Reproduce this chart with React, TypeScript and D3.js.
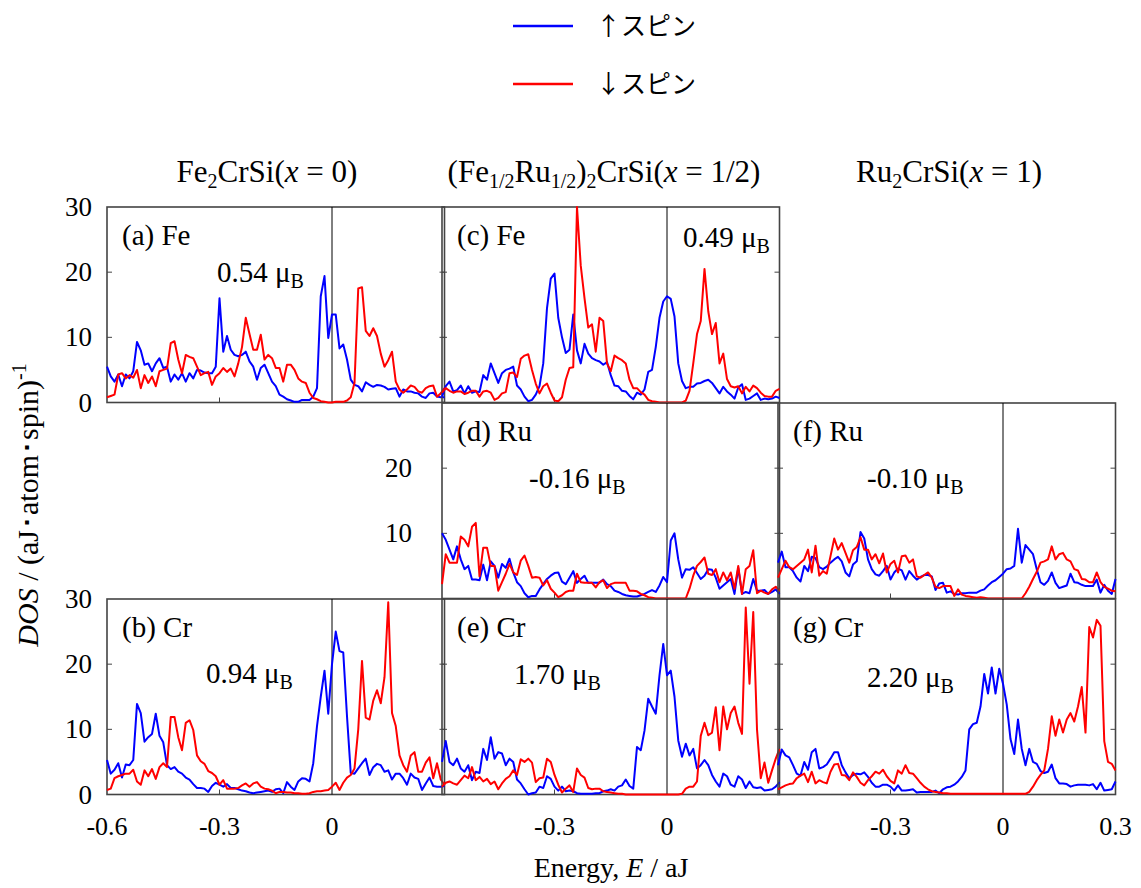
import React from "react";
import * as d3 from "d3";

// energy grid (aJ)
const ENERGY = d3.range(91).map((i) => +(-0.6 + i * 0.01).toFixed(2));

// (a) Fe, x = 0
const A_UP = [5.5,4.0,3.2,4.3,2.5,4.3,3.7,4.8,9.3,8.0,
  5.8,6.0,4.8,6.0,6.8,5.3,5.5,3.2,4.3,3.5,
  4.5,3.2,4.5,3.7,5.0,4.9,4.6,4.5,4.5,5.5,
  16.0,7.8,10.2,8.1,7.3,7.1,7.3,7.8,6.3,5.5,
  3.5,5.3,5.8,4.5,3.2,2.5,1.2,0.9,0.5,0.3,
  0.1,0.1,0.4,0.4,0.4,0.9,2.2,16.3,19.4,9.9,
  13.5,13.5,8.3,8.9,6.6,3.5,2.7,2.5,1.7,3.1,
  2.7,2.4,2.7,2.6,2.4,2.0,2.1,2.2,0.9,2.0,
  1.7,1.7,1.5,1.4,0.9,0.7,1.4,1.5,0.9,0.8,0.8];
const A_DN = [0.8,1.0,1.2,4.3,4.5,3.7,4.2,3.8,5.0,2.2,
  4.2,3.0,4.0,2.5,4.8,5.0,5.2,9.1,9.4,6.6,
  4.5,7.3,7.0,6.8,5.5,4.2,4.5,4.7,2.7,4.0,
  4.5,5.3,4.7,5.2,4.0,6.0,8.5,13.0,10.5,8.1,
  8.1,10.4,6.6,7.3,6.8,5.3,5.3,3.2,5.8,5.8,
  5.0,3.7,3.2,3.0,1.5,0.7,0.5,0.2,0.1,0.0,
  0.0,0.1,0.1,0.1,0.3,0.8,3.0,17.5,17.7,11.0,
  10.2,11.4,10.2,7.5,5.5,6.5,7.8,3.2,2.0,1.5,
  2.0,2.6,2.4,1.7,1.5,2.2,2.5,2.6,0.9,1.4,2.2];

// (b) Cr, x = 0
const B_UP = [5.3,3.2,3.8,4.8,2.6,4.6,4.5,5.3,13.9,12.5,
  8.1,8.8,9.3,12.4,9.0,8.0,4.5,3.9,4.2,3.5,
  3.2,2.6,2.3,1.6,1.0,1.0,0.9,0.4,1.3,1.8,
  1.5,1.2,1.6,1.0,1.0,0.8,0.6,0.5,0.3,0.2,
  0.3,0.4,0.5,0.6,0.4,0.8,0.9,0.2,1.9,1.2,
  0.7,2.0,2.5,2.4,2.0,4.8,10.5,15.0,19.0,12.4,
  20.0,25.0,22.0,21.8,12.0,3.3,3.2,4.0,4.8,5.5,
  3.0,4.2,4.7,4.5,3.5,3.7,2.3,3.2,3.2,2.5,
  1.5,3.2,2.6,2.4,0.7,1.7,2.6,1.3,1.2,1.2,1.3];
const B_DN = [0.7,0.9,2.5,2.8,3.0,3.2,3.2,3.8,2.0,1.5,
  3.7,2.8,3.9,2.4,4.2,4.8,4.2,11.9,11.9,8.8,
  6.8,11.0,11.4,9.9,6.0,5.1,4.7,3.6,3.3,2.8,
  1.5,2.2,0.9,0.9,0.9,1.0,1.4,1.7,1.2,1.7,
  1.9,1.2,0.9,0.8,0.6,0.2,0.4,0.4,0.3,0.3,
  0.2,0.2,0.1,0.1,0.2,0.4,0.5,0.5,0.6,0.7,
  1.2,1.8,0.7,1.8,2.6,3.0,4.0,10.0,20.5,11.8,
  11.5,14.4,16.0,14.0,18.0,29.5,12.5,10.5,6.0,4.5,
  3.5,6.0,6.5,3.5,3.5,4.9,5.7,2.5,4.8,2.3,1.5];

// (c) Fe, x = 1/2
const C_UP = [0.9,2.5,3.2,1.7,1.9,2.6,1.4,2.5,1.5,1.7,
  1.6,4.2,3.5,6.0,4.5,3.0,4.5,5.0,5.2,5.5,
  2.6,2.0,0.9,0.2,0.4,1.2,2.5,6.0,14.5,19.0,
  19.8,13.0,10.0,7.6,8.1,13.5,8.0,6.0,9.0,7.5,
  6.8,6.5,6.3,5.8,6.2,4.2,2.6,2.5,1.8,1.7,
  1.0,0.5,1.5,1.2,2.0,4.7,5.0,8.5,13.0,15.5,
  16.3,15.9,13.2,6.0,3.3,2.2,2.4,2.4,2.9,3.0,
  3.3,3.5,3.0,2.2,1.4,2.4,1.7,1.2,0.6,2.3,
  2.8,0.4,0.6,1.0,1.4,0.4,0.6,0.5,0.6,0.9,0.7];
const C_DN = [1.5,2.2,1.8,1.5,1.7,1.7,1.3,1.5,1.8,1.8,
  0.9,1.7,1.8,1.5,0.4,0.7,1.4,1.6,4.5,4.6,
  3.9,6.7,7.2,7.4,5.0,2.9,1.4,2.5,2.9,1.5,
  0.3,0.2,0.8,3.5,5.3,5.4,30.0,21.0,16.0,11.5,
  12.0,7.8,13.0,12.5,6.0,4.8,7.2,6.8,6.5,6.0,
  3.5,2.2,2.2,1.6,1.2,0.4,0.2,0.1,0.0,0.0,
  0.0,0.0,0.0,0.0,0.0,0.3,1.8,6.0,10.5,12.5,
  20.5,14.0,10.5,12.2,6.0,7.5,3.6,2.5,2.3,2.5,
  1.4,2.4,1.7,2.6,2.2,1.5,1.0,0.9,0.9,1.8,2.1];

// (d) Ru, x = 1/2
const D_UP = [10.0,9.0,7.5,6.0,8.0,6.0,4.5,5.0,2.9,2.9,
  2.8,5.2,2.8,5.7,5.0,3.2,5.3,4.7,6.1,4.0,
  2.5,1.9,0.8,0.2,0.4,0.4,1.4,2.2,3.0,3.5,
  3.9,4.0,2.6,2.2,3.2,4.2,2.4,3.0,3.5,2.4,
  2.4,2.4,2.4,2.9,2.2,1.9,1.2,1.0,0.7,0.5,
  0.4,0.3,0.3,0.5,0.7,1.0,1.3,1.0,2.0,3.3,
  2.5,8.9,10.0,6.0,3.2,4.5,4.4,4.8,3.9,3.0,
  3.5,4.5,4.4,3.2,1.5,2.0,2.5,3.0,0.7,4.7,
  0.7,1.0,0.8,3.0,1.2,1.2,1.3,0.7,1.0,1.4,0.7];
const D_DN = [2.2,6.8,5.5,5.5,5.5,9.5,9.0,8.0,11.0,11.6,
  3.4,7.8,7.8,5.0,5.0,1.2,2.5,3.8,5.3,4.0,
  3.6,5.8,6.6,5.0,3.2,3.3,3.2,2.0,2.8,1.5,
  0.9,0.2,0.5,1.0,1.2,1.2,3.8,2.5,2.4,2.4,
  2.4,1.7,2.5,2.8,1.6,2.2,2.4,2.4,2.4,2.4,
  1.2,1.2,1.1,0.7,0.5,0.2,0.1,0.0,0.0,0.0,
  0.0,0.0,0.0,0.0,0.0,0.0,1.5,3.5,5.0,5.6,
  6.3,3.8,3.6,4.5,2.5,4.0,2.8,4.0,1.5,5.0,
  0.7,4.5,5.0,7.4,0.8,1.2,0.9,0.7,1.4,1.8,1.2];

// (e) Cr, x = 1/2
const E_UP = [5.0,8.2,5.0,4.5,5.5,4.0,3.5,4.5,2.2,3.5,
  3.3,7.0,5.3,8.8,5.5,6.5,6.3,4.5,5.5,5.0,
  2.3,1.7,0.8,0.0,0.2,0.3,1.2,1.0,2.8,2.4,
  1.2,0.6,1.2,0.5,0.6,0.5,0.2,0.1,0.1,0.1,
  0.1,0.2,0.2,0.5,0.6,0.8,0.6,1.2,1.4,2.3,
  1.3,0.9,7.3,6.8,9.8,14.7,13.5,12.4,18.3,23.1,
  18.3,19.0,15.0,8.3,5.8,7.8,6.0,7.0,4.0,4.5,
  5.3,4.5,3.0,2.0,1.2,3.2,2.8,1.5,1.2,2.8,
  2.3,1.0,2.0,1.1,1.0,1.1,0.6,0.7,0.8,1.2,1.9];
const E_DN = [1.2,1.8,2.0,1.7,1.5,2.2,2.9,2.5,4.2,2.2,
  2.7,2.0,2.4,1.6,2.0,0.8,1.7,2.4,2.8,3.7,
  3.0,5.4,5.0,5.5,4.9,1.9,2.5,2.6,5.5,5.0,
  3.0,1.5,0.3,0.9,1.4,0.4,4.0,3.0,2.6,1.0,
  0.8,0.9,0.9,0.5,0.4,0.3,0.2,0.1,0.1,0.0,
  0.0,0.0,0.0,0.0,0.0,0.0,0.0,0.0,0.0,0.0,
  0.0,0.0,0.0,0.0,0.1,0.9,1.2,1.2,2.0,9.0,
  11.0,9.1,9.5,13.4,6.8,13.5,10.0,12.5,13.5,11.0,
  9.3,28.7,17.0,28.0,10.0,2.5,4.9,1.8,3.7,5.5,7.0];

// (f) Ru, x = 1
const F_UP = [5.5,7.2,4.8,4.8,4.2,3.2,2.6,5.0,4.2,6.4,
  6.2,4.8,4.5,4.9,5.5,6.0,6.4,5.7,4.0,3.4,
  5.2,5.7,10.2,9.2,6.0,4.5,3.7,3.5,4.2,5.0,
  2.9,4.0,4.6,4.3,2.9,4.2,3.5,2.9,3.3,3.6,
  3.6,3.4,1.3,2.3,2.4,0.9,1.1,0.7,0.6,0.8,
  0.8,0.9,0.9,0.9,1.2,1.4,2.0,2.5,2.8,3.3,
  3.8,4.5,4.6,5.0,10.7,5.5,8.2,7.5,6.8,4.5,
  2.5,2.1,2.7,4.0,2.4,1.6,1.8,2.0,3.8,2.5,
  2.4,2.1,1.9,1.9,1.9,2.9,0.9,2.1,1.2,0.7,3.0];
const F_DN = [3.2,4.5,5.8,4.8,4.5,5.0,5.5,6.0,7.5,4.0,
  8.1,3.5,4.2,3.8,6.5,9.2,7.5,8.5,7.0,5.5,
  7.4,7.9,9.4,7.5,7.5,6.0,6.8,5.4,6.9,4.0,
  5.3,5.8,4.0,6.5,6.6,5.5,6.0,3.4,3.2,3.6,
  4.0,3.2,1.8,1.6,1.9,1.9,1.9,0.4,1.4,0.6,
  0.4,0.3,0.2,0.1,0.2,0.1,0.0,0.0,0.0,0.0,
  0.0,0.0,0.0,0.0,0.0,0.0,0.8,1.8,3.0,4.1,
  5.5,5.7,6.0,8.0,6.0,6.8,7.0,6.0,5.7,4.5,
  4.3,3.0,2.9,2.5,2.5,4.0,2.5,1.8,1.5,1.2,1.1];

// (g) Cr, x = 1
const G_UP = [4.5,6.9,6.0,5.7,4.5,3.2,2.9,5.0,3.8,6.5,
  7.0,4.0,4.2,4.6,5.5,6.5,6.5,4.5,3.4,2.5,
  3.0,3.2,3.1,3.4,2.7,1.8,1.2,1.2,1.5,1.5,
  1.2,0.6,1.4,0.6,0.6,0.7,0.8,0.3,0.4,0.4,
  0.4,0.4,0.6,0.2,0.8,1.1,1.2,1.5,2.0,2.7,
  3.7,10.0,10.8,11.0,13.5,18.5,15.5,19.5,15.5,19.3,
  17.0,13.8,8.5,6.2,11.5,7.0,4.5,7.0,5.0,4.7,
  3.6,3.3,3.5,4.6,2.5,1.7,1.7,1.6,1.2,1.4,
  1.5,1.5,1.5,1.4,1.6,0.8,1.8,0.6,0.7,0.8,2.0];
const G_DN = [0.8,1.1,1.4,1.6,1.7,2.5,2.9,3.2,1.9,3.5,
  1.7,2.2,1.9,1.7,3.5,4.6,4.7,3.0,2.9,2.2,
  3.4,2.7,1.8,1.4,2.2,2.8,3.5,3.2,3.8,2.8,
  2.1,1.7,3.7,3.2,4.5,3.3,3.2,2.5,1.8,1.2,
  0.8,0.5,0.4,0.3,0.2,0.2,0.1,0.1,0.1,0.1,
  0.1,0.1,0.1,0.1,0.1,0.1,0.1,0.1,0.1,0.1,
  0.1,0.1,0.1,0.1,0.1,0.1,0.1,0.4,1.2,2.2,
  3.0,3.7,7.0,12.0,9.0,11.5,9.5,11.5,12.5,11.2,
  13.5,16.5,9.5,25.7,24.1,26.8,25.9,8.2,5.0,4.7,3.7];

const PANEL_IDS = ["a", "b", "c", "d", "e", "f", "g"];
const ATOMS = ["Fe", "Cr", "Fe", "Ru", "Cr", "Ru", "Cr"];
const MOMENTS = ["0.54", "0.94", "0.49", "-0.16", "1.70", "-0.10", "2.20"];
const UP = [A_UP, B_UP, C_UP, D_UP, E_UP, F_UP, G_UP];
const DN = [A_DN, B_DN, C_DN, D_DN, E_DN, F_DN, G_DN];
const X_TICKS = [[-0.6, -0.3, 0], [-0.3, 0], [-0.3, 0, 0.3]];
const Y_TICKS = [0, 10, 20, 30];
const Y_TICKS_MID = [10, 20];

// layout
const COL_LEFT = [107, 442, 778];
const ROW_TOP = [207, 403, 599];
const PW = 337.5;
const PH = 195.5;
const GRID = [[0, 0], [0, 2], [1, 0], [1, 1], [1, 2], [2, 1], [2, 2]];
const MOMENT_POS = [[110, 75], [99, 84], [241, 40], [87, 85], [72, 85], [89, 85], [89, 88]];

const SERIF = "'Liberation Serif', 'Times New Roman', serif";
const JP = "'Noto Sans CJK JP', 'Noto Sans', sans-serif";

export default function App() {
  const panels = PANEL_IDS.map((id, k) => {
    const [c, r] = GRID[k];
    const x = d3.scaleLinear().domain([-0.6, 0.3]).range([COL_LEFT[c], COL_LEFT[c] + PW]);
    const y = d3.scaleLinear().domain([0, 30]).range([ROW_TOP[r] + PH, ROW_TOP[r]]);
    const line = d3
      .line<number>()
      .x((_, i) => x(ENERGY[i]))
      .y((d) => y(d));
    return { id, k, c, r, x, y, line };
  });

  const sub = (s: string) => (
    <tspan dy={6} fontSize={20}>{s}</tspan>
  );

  return (
    <svg width={1141} height={888} style={{ position: "absolute", left: 0, top: 0, background: "#fff" }}>
      <rect width={1141} height={888} fill="#fff" />

      {/* legend */}
      <line x1={513} x2={573} y1={26} y2={26} stroke="#0000ff" strokeWidth={2.5} />
      <text x={596} y={35} fontFamily={JP} fontSize={25}>↑スピン</text>
      <line x1={513} x2={573} y1={84} y2={84} stroke="#ff0000" strokeWidth={2.5} />
      <text x={596} y={93} fontFamily={JP} fontSize={25}>↓スピン</text>

      {/* column titles */}
      <g fontFamily={SERIF} fontSize={31} textAnchor="middle">
        <text x={267} y={182}>
          Fe{sub("2")}<tspan dy={-6}>CrSi(</tspan><tspan fontStyle="italic">x</tspan> = 0)
        </text>
        <text x={604} y={182}>
          (Fe{sub("1/2")}<tspan dy={-6}>Ru</tspan>{sub("1/2")}<tspan dy={-6}>)</tspan>{sub("2")}
          <tspan dy={-6}>CrSi(</tspan><tspan fontStyle="italic">x</tspan> = 1/2)
        </text>
        <text x={949} y={182}>
          Ru{sub("2")}<tspan dy={-6}>CrSi(</tspan><tspan fontStyle="italic">x</tspan> = 1)
        </text>
      </g>

      {panels.map((p) => {
        const x0 = COL_LEFT[p.c];
        const y0 = ROW_TOP[p.r];
        return (
          <g key={p.id}>
            <rect x={x0} y={y0} width={PW} height={PH} fill="none" stroke="#444" strokeWidth={1.6} />
            <line x1={p.x(0)} x2={p.x(0)} y1={y0} y2={y0 + PH} stroke="#000" strokeWidth={1} />
            {[10, 20].map((t) => (
              <g key={t}>
                <line x1={x0} x2={x0 + 5} y1={p.y(t)} y2={p.y(t)} stroke="#444" strokeWidth={1} />
                <line x1={x0 + PW - 5} x2={x0 + PW} y1={p.y(t)} y2={p.y(t)} stroke="#444" strokeWidth={1} />
              </g>
            ))}
            <line x1={p.x(-0.3)} x2={p.x(-0.3)} y1={y0 + PH} y2={y0 + PH - 5} stroke="#444" strokeWidth={1} />
            <path d={p.line(UP[p.k]) || ""} fill="none" stroke="#0000ff" strokeWidth={2} strokeLinejoin="round" />
            <path d={p.line(DN[p.k]) || ""} fill="none" stroke="#ff0000" strokeWidth={2} strokeLinejoin="round" />
            <text x={x0 + 15} y={y0 + 38} fontFamily={SERIF} fontSize={29}>
              ({p.id}) {ATOMS[p.k]}
            </text>
            <text x={x0 + MOMENT_POS[p.k][0]} y={y0 + MOMENT_POS[p.k][1]} fontFamily={SERIF} fontSize={29}>
              {MOMENTS[p.k]} μ<tspan dy={6} fontSize={20}>B</tspan>
            </text>
          </g>
        );
      })}

      {/* y tick labels */}
      <g fontFamily={SERIF} fontSize={27} textAnchor="end">
        {[0, 2].map((r) =>
          Y_TICKS.map((t) => (
            <text key={`${r}-${t}`} x={92} y={ROW_TOP[r] + PH - (t / 30) * PH + 9}>{t}</text>
          ))
        )}
        {Y_TICKS_MID.map((t) => (
          <text key={`m-${t}`} x={412} y={ROW_TOP[1] + PH - (t / 30) * PH + 9}>{t}</text>
        ))}
      </g>

      {/* x tick labels */}
      <g fontFamily={SERIF} fontSize={26} textAnchor="middle">
        {X_TICKS.map((ticks, c) =>
          ticks.map((t) => (
            <text key={`${c}-${t}`} x={panels.find((p) => p.c === c && p.r === 2)!.x(t)} y={835}>
              {String(t)}
            </text>
          ))
        )}
      </g>

      {/* axis titles */}
      <text x={611} y={877} fontFamily={SERIF} fontSize={28} textAnchor="middle">
        Energy, <tspan fontStyle="italic">E</tspan> / aJ
      </text>
      <text transform="translate(38,505) rotate(-90)" fontFamily={SERIF} fontSize={30} textAnchor="middle">
        <tspan fontStyle="italic">DOS</tspan> / (aJ･atom･spin)<tspan dy={-12} fontSize={20}>-1</tspan>
      </text>
    </svg>
  );
}
